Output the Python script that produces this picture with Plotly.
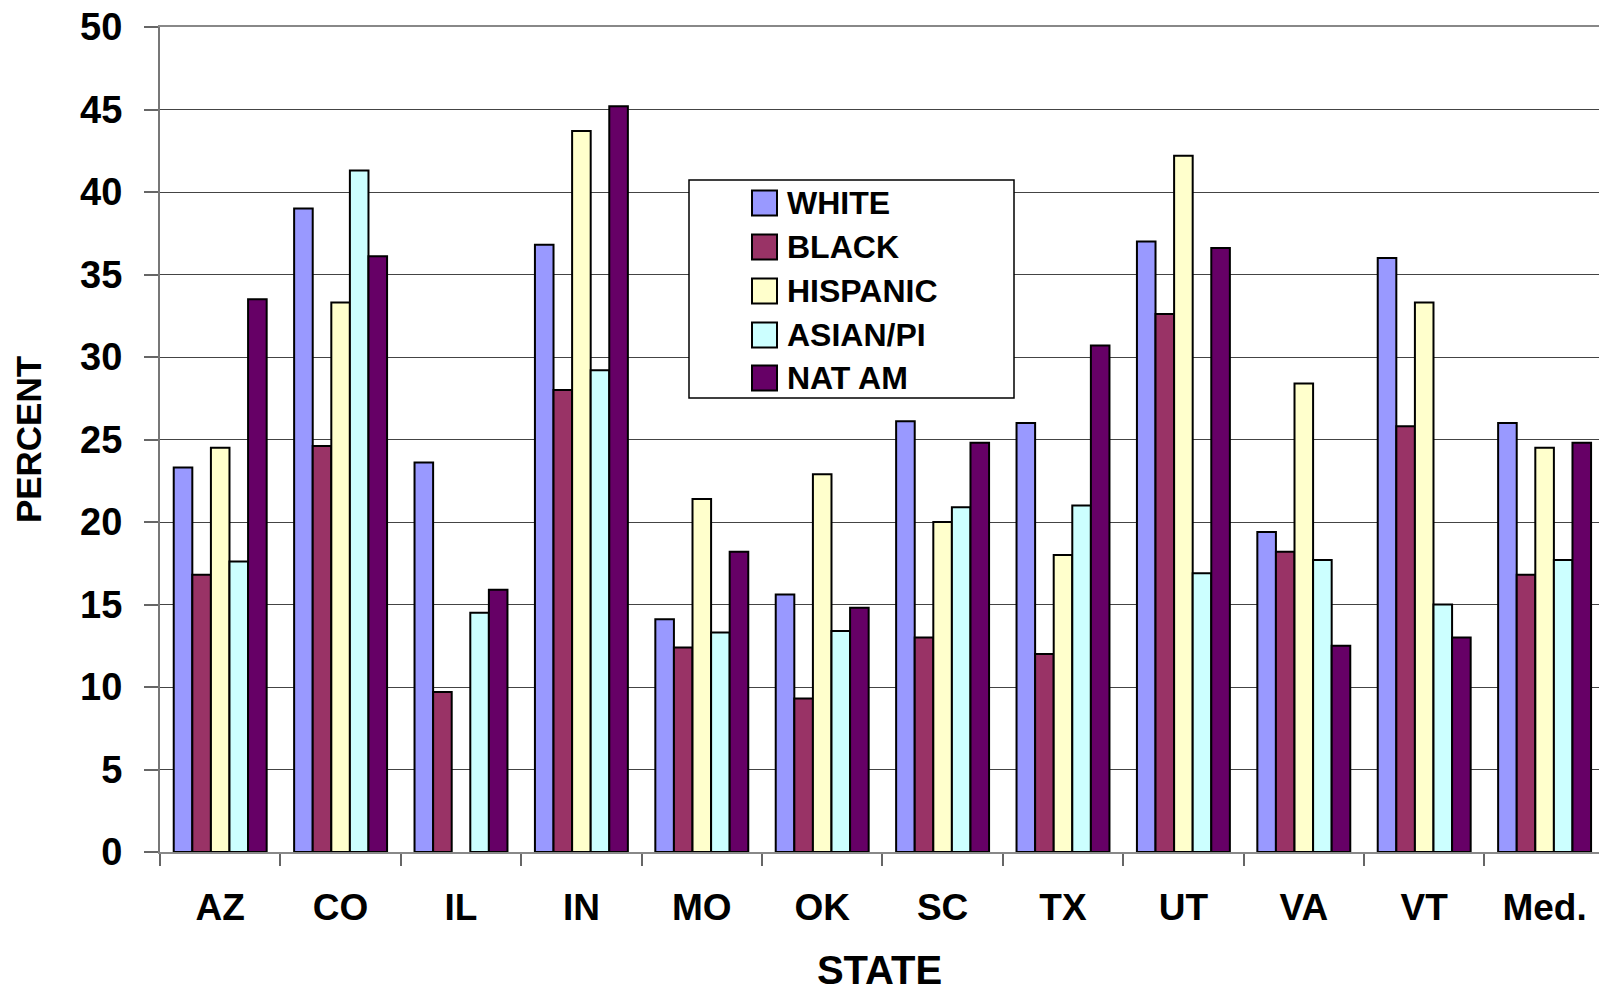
import plotly.graph_objects as go

# ---- data ----
states = ["AZ", "CO", "IL", "IN", "MO", "OK", "SC", "TX", "UT", "VA", "VT", "Med."]
white    = [23.3, 39.0, 23.6, 36.8, 14.1, 15.6, 26.1, 26.0, 37.0, 19.4, 36.0, 26.0]
black    = [16.8, 24.6,  9.7, 28.0, 12.4,  9.3, 13.0, 12.0, 32.6, 18.2, 25.8, 16.8]
hispanic = [24.5, 33.3, None, 43.7, 21.4, 22.9, 20.0, 18.0, 42.2, 28.4, 33.3, 24.5]
asian_pi = [17.6, 41.3, 14.5, 29.2, 13.3, 13.4, 20.9, 21.0, 16.9, 17.7, 15.0, 17.7]
nat_am   = [33.5, 36.1, 15.9, 45.2, 18.2, 14.8, 24.8, 30.7, 36.6, 12.5, 13.0, 24.8]
series_names = ["WHITE", "BLACK", "HISPANIC", "ASIAN/PI", "NAT AM"]
series_values = [white, black, hispanic, asian_pi, nat_am]
series_colors = ["#9999FF", "#993366", "#FFFFCC", "#CCFFFF", "#660066"]
y_ticks = [0, 5, 10, 15, 20, 25, 30, 35, 40, 45, 50]

# ---- layout geometry (page pixels; body margin removed below) ----
W, H = 1599, 992
PLOT_L, PLOT_T, PLOT_B = 160, 27, 852
ML, MT, MB, MR = PLOT_L, PLOT_T, H - PLOT_B, 0
PW, PH = W - ML - MR, H - MT - MB
CAT_PX = 120.4  # width of one category in pixels

def px_x(x):
    return (x - PLOT_L) / PW

def px_y(y):
    return (PLOT_B - y) / PH

FONT = "Liberation Sans, Arial, sans-serif"

fig = go.Figure()
for name, vals, col in zip(series_names, series_values, series_colors):
    fig.add_trace(go.Bar(
        name=name, x=states, y=vals,
        marker=dict(color=col, line=dict(color="black", width=2)),
        showlegend=False,
    ))

fig.update_layout(
    width=W, height=H,
    margin=dict(l=ML, r=MR, t=MT, b=MB, pad=0),
    paper_bgcolor="white", plot_bgcolor="white",
    barmode="group", bargap=0.228, bargroupgap=0,
    font=dict(family=FONT, color="black"),
)

fig.update_xaxes(
    type="category", automargin=False, ticklabeloverflow="allow",
    range=[-0.5, -0.5 + PW / CAT_PX],
    tickson="boundaries", ticks="outside", ticklen=12, tickwidth=1.5, tickcolor="#666",
    showline=True, linecolor="#888", linewidth=2, mirror=True,
    showgrid=False,
    tickfont=dict(family=FONT, size=37, weight="bold"),
    ticklabelstandoff=22,
    title=dict(text="STATE", font=dict(family=FONT, size=40, weight="bold"), standoff=37),
)
fig.update_yaxes(
    automargin=False, ticklabeloverflow="allow",
    range=[0, 50], tickvals=y_ticks,
    ticks="outside", ticklen=14, tickwidth=1.5, tickcolor="#666",
    showline=True, linecolor="#777", linewidth=2,
    showgrid=True, gridcolor="#444", gridwidth=1,
    zeroline=False,
    tickfont=dict(family=FONT, size=38, weight="bold"),
    ticklabelstandoff=14,
    title=dict(text="PERCENT", font=dict(family=FONT, size=35, weight="bold"), standoff=28),
)

# ---- legend box (drawn in paper coordinates) ----
fig.add_shape(type="rect", xref="paper", yref="paper",
              x0=px_x(689), x1=px_x(1014), y0=px_y(398), y1=px_y(180),
              line=dict(color="black", width=1.5), fillcolor="white", layer="above")
row_y = [203, 247, 291, 335, 378]
for name, col, ry in zip(series_names, series_colors, row_y):
    fig.add_shape(type="rect", xref="paper", yref="paper",
                  x0=px_x(752), x1=px_x(777), y0=px_y(ry + 12.5), y1=px_y(ry - 12.5),
                  line=dict(color="black", width=2), fillcolor=col, layer="above")
    fig.add_annotation(xref="paper", yref="paper", x=px_x(785), y=px_y(ry),
                       text=name, showarrow=False, xanchor="left", yanchor="middle",
                       font=dict(family=FONT, size=32, weight="bold", color="black"))

fig.write_html("out.html",
               config={"displayModeBar": False},
               post_script="document.body.style.margin='0';document.body.style.overflow='hidden';")
